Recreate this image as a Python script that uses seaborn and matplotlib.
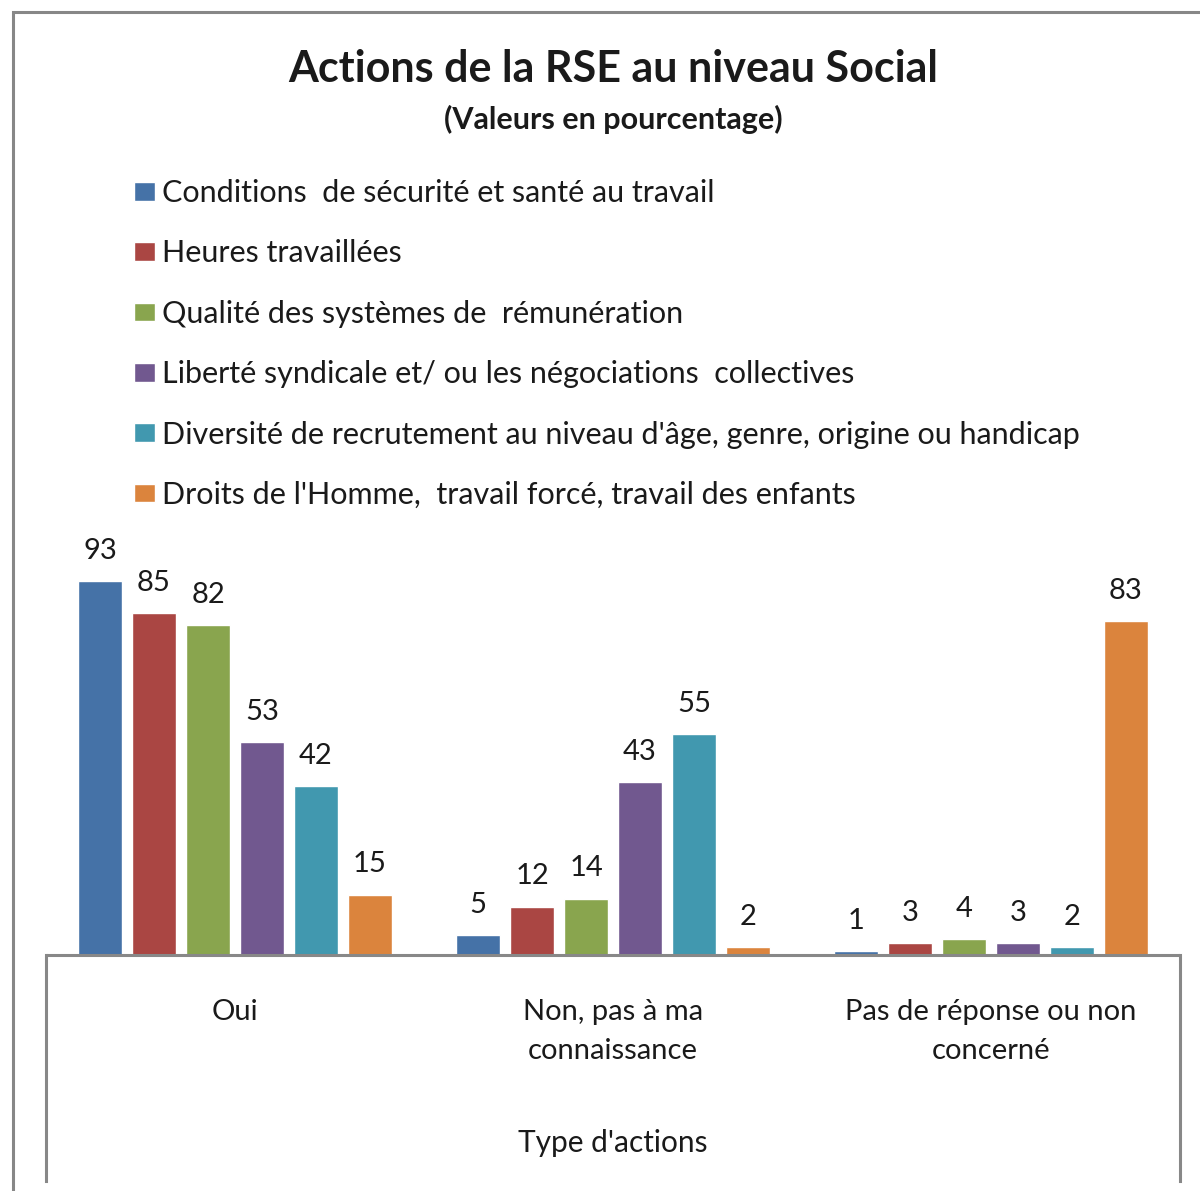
import pandas as pd
import matplotlib
matplotlib.use("Agg")
import matplotlib.pyplot as plt
from matplotlib.patches import Rectangle
import seaborn as sns

# Data
categories = ["Oui", "Non, pas à ma\nconnaissance", "Pas de réponse ou non\nconcerné"]
series = [
    "Conditions  de sécurité et santé au travail",
    "Heures travaillées",
    "Qualité des systèmes de  rémunération",
    "Liberté syndicale et/ ou les négociations  collectives",
    "Diversité de recrutement au niveau d'âge, genre, origine ou handicap",
    "Droits de l'Homme,  travail forcé, travail des enfants",
]
conditions = [93, 5, 1]
heures = [85, 12, 3]
qualite = [82, 14, 4]
liberte = [53, 43, 3]
diversite = [42, 55, 2]
droits = [15, 2, 83]
colors = ["#4572A7", "#AA4643", "#89A54E", "#71588F", "#4198AF", "#DB843D"]

rows = []
for name, vals in zip(series, [conditions, heures, qualite, liberte, diversite, droits]):
    for cat, v in zip(categories, vals):
        rows.append({"cat": cat, "serie": name, "val": v})
df = pd.DataFrame(rows)

sns.set_style("white")
plt.rcParams['font.family'] = ['Lato', 'DejaVu Sans']

W, H = 1200, 1191
fig = plt.figure(figsize=(W / 100, H / 100), dpi=100)

# axes spans from the bottom of the category box up to value 100
ax = fig.add_axes([46 / W, 1 - 1181 / H, (1180 - 46) / W, (1181 - 553) / H])
ymin = -56.2
sns.barplot(data=df, x="cat", y="val", hue="serie", order=categories,
            hue_order=series, palette=colors, width=0.857, gap=0.19,
            saturation=1, ax=ax, legend=True)
ax.set_ylim(ymin, 100)
ax.set_xlim(-0.5, 2.5)

for cont in ax.containers:
    ax.bar_label(cont, padding=12.5, fontsize=21, color="#1a1a1a")

grey = "#888888"
ax.axhline(0, color=grey, lw=2.2, zorder=5)
for side in ["top", "bottom"]:
    ax.spines[side].set_visible(False)
for side in ["left", "right"]:
    ax.spines[side].set_visible(True)
    ax.spines[side].set_color(grey)
    ax.spines[side].set_linewidth(2.2)
    ax.spines[side].set_bounds(ymin, 0)
ax.set_xticks([])
ax.set_yticks([])
ax.set_xlabel("")
ax.set_ylabel("")

# category labels in the box under the bars
for i, cat in enumerate(categories):
    ax.text(i, -10.9, cat, ha="center", va="top", fontsize=21,
            linespacing=1.63, color="#1a1a1a")
ax.text(1, -46.8, "Type d'actions", ha="center", va="center", fontsize=21.5,
        color="#1a1a1a")

# legend
handles, labels = ax.get_legend_handles_labels()
ax.get_legend().remove()
fig.legend(handles, labels, loc="upper left",
           bbox_to_anchor=(134 / W, 1 - 179 / H), bbox_transform=fig.transFigure,
           frameon=False, fontsize=22, borderpad=0, borderaxespad=0,
           handlelength=0.7, handleheight=0.56, handletextpad=0.22,
           labelspacing=1.06, labelcolor="#1a1a1a")

# titles
fig.text(613 / W, 1 - 69 / H, "Actions de la RSE au niveau Social", ha="center",
         va="center", fontsize=31, fontweight="bold", color="#1a1a1a")
fig.text(613 / W, 1 - 119 / H, "(Valeurs en pourcentage)", ha="center",
         va="center", fontsize=22, fontweight="bold", color="#1a1a1a")

# outer chart border (only top and left visible in the crop)
fig.patches.append(Rectangle((12.5 / W, -0.1), 1.2, 1 - 12.5 / H + 0.1,
                             transform=fig.transFigure, fill=False,
                             edgecolor="#878787", lw=2.2))

fig.savefig("out.png", dpi=100)
